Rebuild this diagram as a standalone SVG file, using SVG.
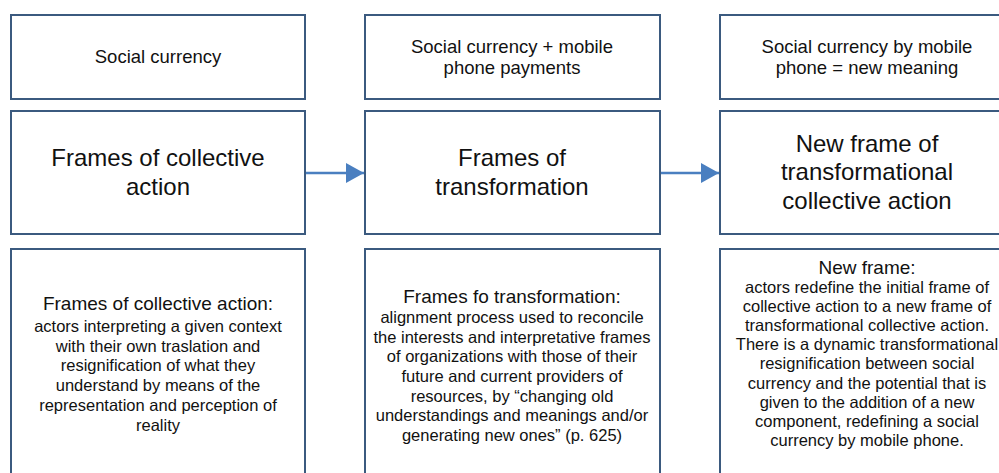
<svg xmlns="http://www.w3.org/2000/svg" width="999" height="473" viewBox="0 0 999 473">
<defs>
<style>
.box{fill:#fff;stroke:#3b5a7f;stroke-width:2}
text{font-family:"Liberation Sans",Arial,sans-serif;fill:#111;text-anchor:middle}
.top{font-size:18.5px}
.mid{font-size:24px}
.ttl{font-size:19px}
.body{font-size:16.5px}
.conn{stroke:#4a7fc0;stroke-width:2.5;fill:none}
</style>
<marker id="ah" markerUnits="userSpaceOnUse" markerWidth="18" markerHeight="20" refX="18" refY="10" orient="auto">
<path d="M0,0 L18,10 L0,20 Z" fill="#4a7fc0"/>
</marker>
</defs>
<rect width="999" height="473" fill="#fff"/>
<g id="top1"><rect class="box" x="11" y="15" width="294" height="84"/><text class="top" x="158" y="63">Social currency</text></g>
<g id="top2"><rect class="box" x="365" y="15" width="295" height="84"/><text class="top" x="512" y="53">Social currency + mobile</text><text class="top" x="512" y="74">phone payments</text></g>
<g id="top3"><rect class="box" x="720" y="15" width="290" height="84"/><text class="top" x="867" y="53">Social currency by mobile</text><text class="top" x="867" y="74">phone = new meaning</text></g>
<g id="mid1"><rect class="box" x="11" y="111" width="294" height="123"/><text class="mid" x="158" y="166">Frames of collective</text><text class="mid" x="158" y="195">action</text></g>
<g id="mid2"><rect class="box" x="365" y="111" width="295" height="123"/><text class="mid" x="512" y="166">Frames of</text><text class="mid" x="512" y="195">transformation</text></g>
<g id="mid3"><rect class="box" x="720" y="111" width="290" height="123"/><text class="mid" x="867" y="152">New frame of</text><text class="mid" x="867" y="180">transformational</text><text class="mid" x="867" y="209">collective action</text></g>
<g id="bot1"><rect class="box" x="11" y="249" width="294" height="240"/>
<text class="ttl" x="158" y="310">Frames of collective action:</text>
<text class="body" x="158" y="332">actors interpreting a given context</text>
<text class="body" x="158" y="352">with their own traslation and</text>
<text class="body" x="158" y="371">resignification of what they</text>
<text class="body" x="158" y="391">understand by means of the</text>
<text class="body" x="158" y="411">representation and perception of</text>
<text class="body" x="158" y="431">reality</text>
</g>
<g id="bot2"><rect class="box" x="365" y="249" width="295" height="240"/>
<text class="ttl" x="512" y="303">Frames fo transformation:</text>
<text class="body" x="512" y="323">alignment process used to reconcile</text>
<text class="body" x="512" y="343">the interests and interpretative frames</text>
<text class="body" x="512" y="362">of organizations with those of their</text>
<text class="body" x="512" y="382">future and current providers of</text>
<text class="body" x="512" y="402">resources, by “changing old</text>
<text class="body" x="512" y="421">understandings and meanings and/or</text>
<text class="body" x="512" y="441">generating new ones” (p. 625)</text>
</g>
<g id="bot3"><rect class="box" x="720" y="249" width="290" height="240"/>
<text class="ttl" x="867" y="274">New frame:</text>
<text class="body" x="867" y="293">actors redefine the initial frame of</text>
<text class="body" x="867" y="312">collective action to a new frame of</text>
<text class="body" x="867" y="331">transformational collective action.</text>
<text class="body" x="867" y="350">There is a dynamic transformational</text>
<text class="body" x="867" y="369">resignification between social</text>
<text class="body" x="867" y="389">currency and the potential that is</text>
<text class="body" x="867" y="408">given to the addition of a new</text>
<text class="body" x="867" y="427">component, redefining a social</text>
<text class="body" x="867" y="446">currency by mobile phone.</text>
</g>
<g id="connectors">
<line class="conn" x1="306" y1="173" x2="364" y2="173" marker-end="url(#ah)"/>
<line class="conn" x1="661" y1="173" x2="719" y2="173" marker-end="url(#ah)"/>
</g>
</svg>
